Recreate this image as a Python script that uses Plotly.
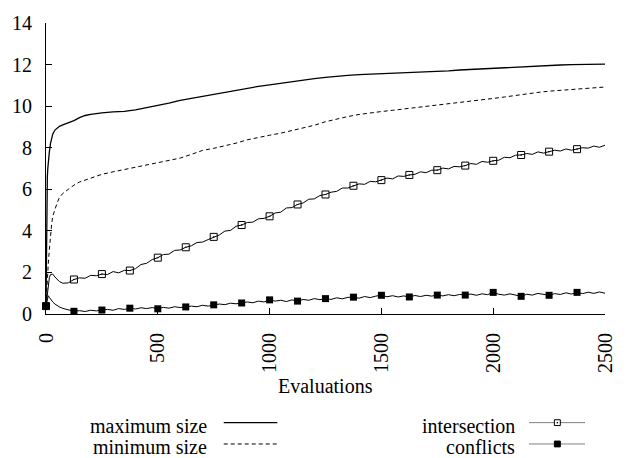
import plotly.graph_objects as go

# Evaluation grid for the population size curves
evals_size = [0, 2, 4, 6, 8, 10, 15, 20, 25, 30, 40, 50, 60, 75, 100, 125, 150, 175, 200] + list(range(250, 2501, 50))

max_size = [0.4, 4.0, 5.8, 6.6, 7.0, 7.3, 7.8, 8.2, 8.45, 8.65, 8.85, 8.95, 9.03, 9.1, 9.2, 9.3, 9.45, 9.55, 9.6,
            9.68, 9.72, 9.75, 9.82, 9.92, 10.05, 10.15, 10.28, 10.38, 10.48, 10.58, 10.67, 10.75, 10.87, 10.95,
            11.02, 11.1, 11.18, 11.25, 11.32, 11.38, 11.44, 11.48, 11.52, 11.54, 11.57, 11.59, 11.61, 11.62, 11.65,
            11.68, 11.7, 11.74, 11.77, 11.8, 11.83, 11.86, 11.88, 11.9, 11.93, 11.96, 11.98, 12.0, 12.01, 12.01, 12.02]

min_size = [0.4, 0.9, 1.4, 1.8, 2.05, 2.4, 3.1, 3.8, 4.3, 4.7, 5.05, 5.35, 5.6, 5.8, 6.0, 6.2, 6.35, 6.45, 6.55,
            6.72, 6.84, 6.95, 7.05, 7.15, 7.25, 7.38, 7.5, 7.68, 7.87, 7.97, 8.08, 8.22, 8.38, 8.5,
            8.6, 8.7, 8.82, 8.93, 9.08, 9.25, 9.38, 9.5, 9.6, 9.68, 9.74, 9.8, 9.86, 9.93, 10.0,
            10.06, 10.12, 10.18, 10.24, 10.3, 10.37, 10.44, 10.52, 10.6, 10.66, 10.72, 10.76, 10.8, 10.84, 10.87, 10.92]

# Evaluation grid for the intersection / conflict counts
evals_count = [0, 5, 10, 15, 20, 30, 40, 50, 60, 75, 100] + list(range(125, 2501, 25))

intersection = [0.38, 0.95, 1.45, 1.75, 1.9, 1.92, 1.78, 1.65, 1.56, 1.48, 1.5,
                1.66, 1.74, 1.72, 1.86, 1.84, 1.92, 1.90, 2.04, 1.98, 2.10,
                2.09, 2.18, 2.38, 2.44, 2.62, 2.71, 2.86, 2.88, 3.06, 3.08,
                3.21, 3.28, 3.44, 3.46, 3.58, 3.71, 3.80, 3.99, 4.02, 4.22,
                4.28, 4.40, 4.42, 4.58, 4.60, 4.70, 4.86, 4.90, 5.10, 5.12,
                5.27, 5.34, 5.52, 5.54, 5.70, 5.75, 5.86, 5.90, 6.06, 6.06,
                6.17, 6.26, 6.24, 6.38, 6.36, 6.44, 6.54, 6.50, 6.64, 6.62,
                6.69, 6.72, 6.84, 6.80, 6.92, 6.92, 7.02, 6.98, 7.10, 7.08,
                7.14, 7.24, 7.20, 7.34, 7.30, 7.37, 7.40, 7.54, 7.52, 7.64,
                7.65, 7.72, 7.68, 7.80, 7.74, 7.81, 7.88, 7.84, 7.94, 7.88,
                7.93, 8.00, 7.98, 8.08, 8.02, 8.12]

conflicts = [0.38, 0.70, 0.88, 0.80, 0.72, 0.58, 0.48, 0.40, 0.34, 0.27, 0.20,
             0.13, 0.16, 0.12, 0.18, 0.15, 0.19, 0.22, 0.18, 0.26, 0.22,
             0.28, 0.24, 0.30, 0.26, 0.31, 0.25, 0.32, 0.28, 0.35, 0.31,
             0.34, 0.38, 0.35, 0.42, 0.38, 0.44, 0.48, 0.45, 0.52, 0.49,
             0.53, 0.58, 0.54, 0.62, 0.58, 0.68, 0.62, 0.66, 0.60, 0.68,
             0.62, 0.70, 0.66, 0.74, 0.69, 0.74, 0.70, 0.78, 0.73, 0.80,
             0.81, 0.76, 0.84, 0.79, 0.86, 0.90, 0.83, 0.88, 0.82, 0.87,
             0.82, 0.89, 0.84, 0.90, 0.86, 0.91, 0.87, 0.93, 0.88, 0.94,
             0.91, 0.96, 0.90, 0.97, 0.93, 1.04, 0.95, 0.91, 0.97, 0.92,
             0.85, 0.95, 0.91, 0.99, 0.93, 0.90, 0.98, 0.94, 1.02, 0.96,
             1.04, 0.98, 1.05, 0.99, 1.06, 1.00]

# Point markers are placed every 125 evaluations
marker_evals = list(range(0, 2500, 125))
x_ticks = [0, 500, 1000, 1500, 2000, 2500]
y_ticks = [0, 2, 4, 6, 8, 10, 12, 14]

FONT = "Liberation Serif"
FS = 20
W, H = 628, 458
ML, MR, MT, MB = 44, 21, 14, 144
PW, PH = W - ML - MR, H - MT - MB


def px(xp):
    return (xp - ML) / PW


def py(yp):
    return (H - MB - yp) / PH


inter_marks = [intersection[evals_count.index(m)] for m in marker_evals]
confl_marks = [conflicts[evals_count.index(m)] for m in marker_evals]

fig = go.Figure()
fig.add_trace(go.Scatter(x=evals_size, y=max_size, mode="lines",
                         line=dict(color="black", width=1.3), showlegend=False))
fig.add_trace(go.Scatter(x=evals_size, y=min_size, mode="lines",
                         line=dict(color="black", width=1, dash="4px,3px"), showlegend=False))
fig.add_trace(go.Scatter(x=evals_count, y=intersection, mode="lines",
                         line=dict(color="black", width=1), showlegend=False))
fig.add_trace(go.Scatter(x=marker_evals, y=inter_marks, mode="markers", cliponaxis=False,
                         marker=dict(symbol="square-open-dot", size=7, color="black",
                                     line=dict(color="black", width=1)), showlegend=False))
fig.add_trace(go.Scatter(x=evals_count, y=conflicts, mode="lines",
                         line=dict(color="black", width=1), showlegend=False))
fig.add_trace(go.Scatter(x=marker_evals, y=confl_marks, mode="markers", cliponaxis=False,
                         marker=dict(symbol="square", size=7, color="black"), showlegend=False))

# Key: right-aligned titles followed by line samples
shapes = []
annotations = []
key_rows = [
    ("maximum size", 208, 223, 277, 426, dict(color="black", width=1.3), None),
    ("minimum size", 208, 223, 277, 448, dict(color="black", width=1, dash="4px,3px"), None),
    ("intersection", 518, 531, 587, 426, dict(color="black", width=1, dash="1px,1px"), "open"),
    ("conflicts", 518, 531, 587, 448, dict(color="black", width=1, dash="1px,1px"), "filled"),
]
for label, tx, x0, x1, yy, lstyle, mk in key_rows:
    annotations.append(dict(text=label, x=px(tx), y=py(yy + 3), xref="paper", yref="paper",
                            xanchor="right", yanchor="middle", showarrow=False,
                            font=dict(family=FONT, size=FS, color="black")))
    shapes.append(dict(type="line", xref="paper", yref="paper", x0=px(x0), x1=px(x1),
                       y0=py(yy), y1=py(yy), line=lstyle))
    if mk:
        cx = (x0 + x1) / 2
        shapes.append(dict(type="rect", xref="paper", yref="paper",
                           x0=px(cx - 3), x1=px(cx + 3), y0=py(yy - 3), y1=py(yy + 3),
                           line=dict(color="black", width=1),
                           fillcolor="white" if mk == "open" else "black"))
        if mk == "open":
            shapes.append(dict(type="rect", xref="paper", yref="paper",
                               x0=px(cx - 0.7), x1=px(cx + 0.7), y0=py(yy - 0.7), y1=py(yy + 0.7),
                               line=dict(width=0), fillcolor="black"))

annotations.append(dict(text="Evaluations", x=0.5, y=py(388), xref="paper", yref="paper",
                        xanchor="center", yanchor="middle", showarrow=False,
                        font=dict(family=FONT, size=FS, color="black")))

fig.update_layout(
    width=W, height=H,
    margin=dict(l=ML, r=MR, t=MT, b=MB),
    paper_bgcolor="white", plot_bgcolor="white",
    font=dict(family=FONT, size=FS, color="black"),
    shapes=shapes, annotations=annotations,
    showlegend=False,
)
fig.update_xaxes(range=[0, 2500], tickvals=x_ticks, ticktext=[str(v) for v in x_ticks],
                 tickangle=-90, ticks="inside", ticklen=6, tickcolor="black",
                 showline=True, linecolor="black", linewidth=1, mirror=False,
                 showgrid=False, zeroline=False, ticklabelstandoff=10,
                 tickfont=dict(family=FONT, size=FS, color="black"))
fig.update_yaxes(range=[0, 14], tickvals=y_ticks, ticktext=[str(v) for v in y_ticks],
                 ticks="inside", ticklen=6, tickcolor="black",
                 showline=True, linecolor="black", linewidth=1, mirror=False,
                 showgrid=False, zeroline=False, ticklabelstandoff=9,
                 tickfont=dict(family=FONT, size=FS, color="black"))

fig.write_html("out.html")
